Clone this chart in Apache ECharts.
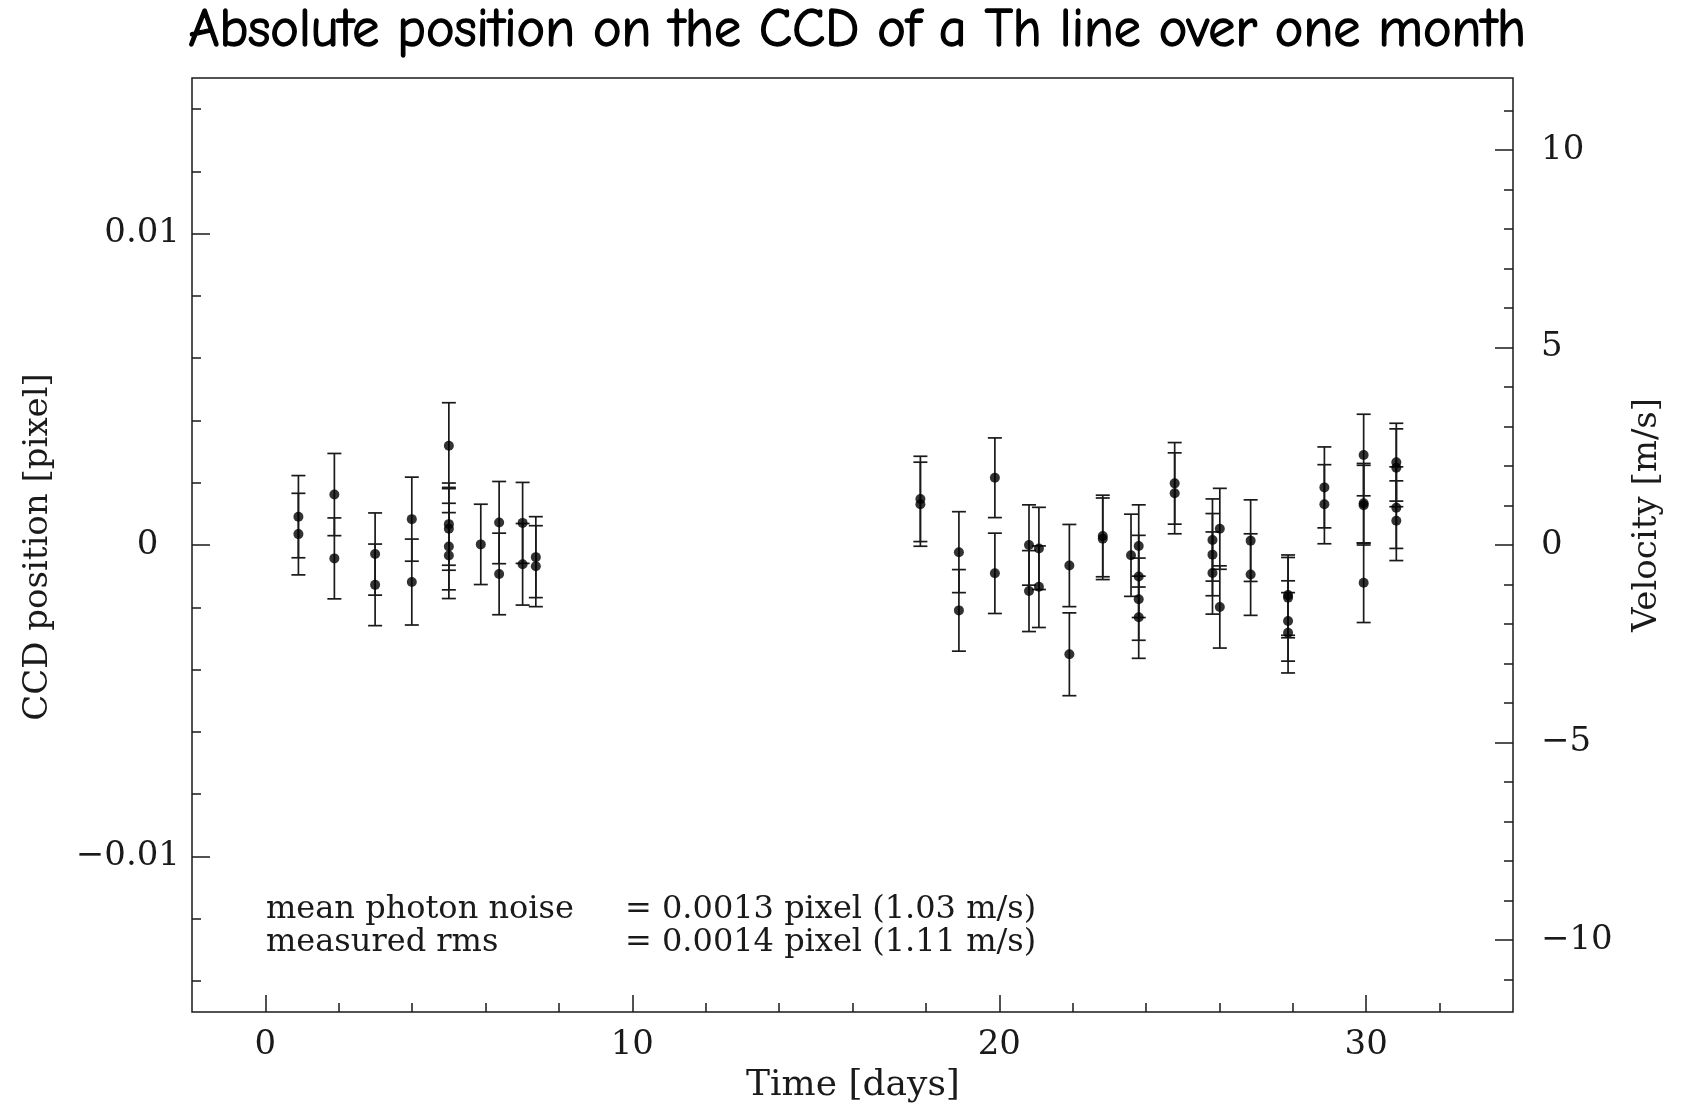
<!DOCTYPE html>
<html>
<head>
<meta charset="utf-8">
<title>Absolute position on the CCD of a Th line over one month</title>
<script src="https://cdn.jsdelivr.net/npm/echarts@6/dist/echarts.min.js"></script>
<style>
  html, body { margin: 0; padding: 0; background: #fff; }
  #chart { width: 1682px; height: 1109px; }
</style>
</head>
<body>
<div id="chart"></div>
<script>
// time of each measurement [days]
const timeDays = [
  0.90, 0.90, 1.88, 1.88, 2.99, 2.99, 3.99, 3.99,
  5.00, 5.00, 5.00, 5.00, 5.00, 5.87, 6.37, 6.37, 7.01, 7.01, 7.37, 7.37,
  17.85, 17.85, 18.90, 18.90, 19.88, 19.88, 20.81, 20.81, 21.08, 21.08,
  21.91, 21.91, 22.82, 22.82, 23.59, 23.80, 23.80, 23.80, 23.80,
  24.78, 24.78, 25.81, 25.81, 25.81, 26.01, 26.01, 26.85, 26.85,
  27.87, 27.87, 27.87, 27.87, 28.86, 28.86,
  29.93, 29.93, 29.93, 29.93, 30.82, 30.82, 30.82, 30.82
];
// CCD position [pixel]
const ccdPos = [
  0.00091, 0.00035, 0.00162, -0.00043, -0.00029, -0.00128, 0.00083, -0.00119,
  0.00319, 0.00067, 0.00052, -0.00005, -0.00034, 0.00002, 0.00072, -0.00093, 0.00071, -0.00062, -0.00039, -0.00068,
  0.00148, 0.00131, -0.00023, -0.00210, 0.00216, -0.00091, 0.00000, -0.00148, -0.00011, -0.00134,
  -0.00066, -0.00351, 0.00029, 0.00020, -0.00033, -0.00003, -0.00101, -0.00174, -0.00232,
  0.00198, 0.00166, 0.00016, -0.00031, -0.00090, 0.00052, -0.00199, 0.00014, -0.00095,
  -0.00161, -0.00169, -0.00244, -0.00282, 0.00185, 0.00131,
  0.00289, 0.00134, 0.00128, -0.00121, 0.00266, 0.00248, 0.00120, 0.00078
];
// photon noise error [pixel]
const posErr = [
  0.00132, 0.00131, 0.00132, 0.00130, 0.00132, 0.00131, 0.00135, 0.00138,
  0.00138, 0.00132, 0.00133, 0.00139, 0.00138, 0.00129, 0.00132, 0.00131, 0.00130, 0.00131, 0.00130, 0.00130,
  0.00137, 0.00135, 0.00130, 0.00131, 0.00128, 0.00129, 0.00129, 0.00130, 0.00132, 0.00131,
  0.00132, 0.00133, 0.00131, 0.00131, 0.00132, 0.00132, 0.00132, 0.00132, 0.00132,
  0.00131, 0.00130, 0.00132, 0.00132, 0.00132, 0.00130, 0.00132, 0.00131, 0.00131,
  0.00129, 0.00129, 0.00129, 0.00129, 0.00130, 0.00127,
  0.00131, 0.00128, 0.00128, 0.00128, 0.00125, 0.00125, 0.00131, 0.00128
];

const xMajorTicks = [0, 10, 20, 30];
const xMinorTicks = [2, 4, 6, 8, 12, 14, 16, 18, 22, 24, 26, 28, 32];
const posMajorTicks = [-0.01, 0, 0.01];
const posMinorTicks = [-0.014, -0.012, -0.008, -0.006, -0.004, -0.002, 0.002, 0.004, 0.006, 0.008, 0.012, 0.014];
const velMajorTicks = [-10, -5, 0, 5, 10];
const velMinorTicks = [-11, -9, -8, -7, -6, -4, -3, -2, -1, 1, 2, 3, 4, 6, 7, 8, 9, 11];

const noiseLines = [
  ["mean photon noise", "= 0.0013 pixel (1.03 m/s)"],
  ["measured rms", "= 0.0014 pixel (1.11 m/s)"]
];

const serif = "DejaVu Serif";
const ink = "#1a1a1a";

const points = timeDays.map((t, i) => [t, ccdPos[i], posErr[i]]);

function minusSign(v) {
  return String(v).replace("-", "\u2212");
}

// one value axis that only draws ticks (and maybe labels)
function tickAxis(min, max, position, ticks, len, label) {
  return {
    type: "value",
    min: min,
    max: max,
    position: position,
    axisLine: { show: false, onZero: false },
    splitLine: { show: false },
    axisTick: { inside: true, length: len, lineStyle: { color: ink, width: 1.5 }, customValues: ticks },
    axisLabel: label
      ? Object.assign({ customValues: ticks, color: ink, fontFamily: serif, fontSize: 34 }, label)
      : { show: false }
  };
}

const chart = echarts.init(document.getElementById("chart"));

const option = {
  backgroundColor: "#fff",
  animation: false,
  grid: {
    left: 192,
    right: 169,
    top: 78,
    bottom: 97,
    show: true,
    borderColor: ink,
    borderWidth: 1.5
  },
  xAxis: [
    tickAxis(-2, 34, "bottom", xMajorTicks, 17, { margin: 16 }),
    tickAxis(-2, 34, "bottom", xMinorTicks, 9)
  ],
  yAxis: [
    tickAxis(-0.015, 0.015, "left", posMajorTicks, 18, {
      margin: 12,
      formatter: v => (v === 0 ? "0  " : minusSign(v))
    }),
    tickAxis(-0.015, 0.015, "left", posMinorTicks, 9),
    tickAxis(-11.82, 11.82, "right", velMajorTicks, 18, {
      margin: 28,
      formatter: v => minusSign(v)
    }),
    tickAxis(-11.82, 11.82, "right", velMinorTicks, 9)
  ],
  graphic: [
    {
      type: "text",
      x: 857,
      y: 31,
      style: {
        text: "Absolute position on the CCD of a Th line over one month",
        font: '54px "Comic Sans MS", "Comic Neue", "DejaVu Sans", sans-serif',
        fill: "#000",
        stroke: "#000",
        lineWidth: 1.3,
        textAlign: "center",
        textVerticalAlign: "middle"
      }
    },
    {
      type: "text",
      x: 853,
      y: 1086,
      style: { text: "Time [days]", font: "36px " + serif, fill: ink, textAlign: "center", textVerticalAlign: "middle" }
    },
    {
      type: "text",
      x: 38,
      y: 547,
      rotation: Math.PI / 2,
      style: { text: "CCD position [pixel]", font: "34px " + serif, fill: ink, textAlign: "center", textVerticalAlign: "middle" }
    },
    {
      type: "text",
      x: 1647,
      y: 515,
      rotation: Math.PI / 2,
      style: { text: "Velocity [m/s]", font: "34px " + serif, fill: ink, textAlign: "center", textVerticalAlign: "middle" }
    }
  ].concat(
    noiseLines.flatMap((line, i) => [
      {
        type: "text",
        x: 266,
        y: 910 + i * 33,
        style: { text: line[0], font: "32px " + serif, fill: ink, textAlign: "left", textVerticalAlign: "middle" }
      },
      {
        type: "text",
        x: 625,
        y: 910 + i * 33,
        style: { text: line[1], font: "32px " + serif, fill: ink, textAlign: "left", textVerticalAlign: "middle" }
      }
    ])
  ),
  series: [
    {
      name: "error",
      type: "custom",
      xAxisIndex: 0,
      yAxisIndex: 0,
      data: points,
      encode: { x: 0, y: 1 },
      z: 2,
      renderItem(params, api) {
        const x = api.value(0);
        const y = api.value(1);
        const e = api.value(2);
        const hi = api.coord([x, y + e]);
        const lo = api.coord([x, y - e]);
        const cap = 7;
        const style = { stroke: ink, lineWidth: 1.7 };
        return {
          type: "group",
          children: [
            { type: "line", shape: { x1: hi[0], y1: hi[1], x2: lo[0], y2: lo[1] }, style },
            { type: "line", shape: { x1: hi[0] - cap, y1: hi[1], x2: hi[0] + cap, y2: hi[1] }, style },
            { type: "line", shape: { x1: lo[0] - cap, y1: lo[1], x2: lo[0] + cap, y2: lo[1] }, style }
          ]
        };
      }
    },
    {
      name: "position",
      type: "scatter",
      xAxisIndex: 0,
      yAxisIndex: 0,
      data: points.map(p => [p[0], p[1]]),
      symbol: "circle",
      symbolSize: 10,
      itemStyle: { color: "#000" },
      z: 3
    }
  ]
};

chart.setOption(option);
</script>
</body>
</html>
